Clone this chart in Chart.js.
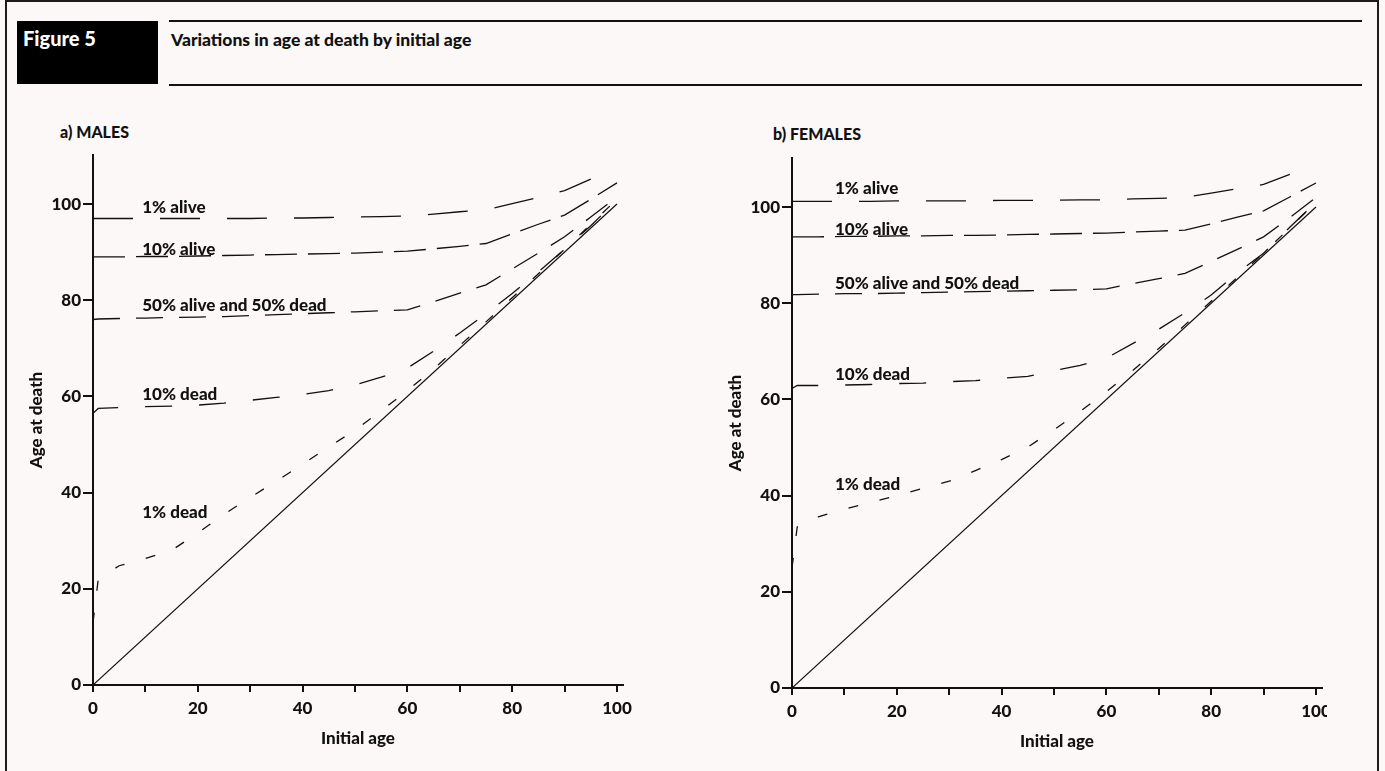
<!DOCTYPE html>
<html>
<head>
<meta charset="utf-8">
<script src="https://cdn.jsdelivr.net/npm/chart.js@4.4.1/dist/chart.umd.min.js"></script>
<style>
  html, body { margin:0; padding:0; }
  body { width:1385px; height:771px; overflow:hidden; background:#fdf8f8; position:relative; font-family: Lato, "Open Sans", sans-serif; }
  .frame { position:absolute; left:5px; top:0px; width:1374px; height:800px; border:2px solid #1c1c1c; box-sizing:border-box; }
  .figbox { position:absolute; left:17px; top:21px; width:141px; height:63px; background:#000; }
  .figlabel { position:absolute; left:23px; top:26px; color:#fff; font-weight:900; font-size:20px; line-height:24px; }
  .hline { position:absolute; left:169px; width:1193px; height:1.5px; background:#111; }
  .title { position:absolute; left:171px; top:29px; font-weight:900; font-size:17.5px; line-height:21px; color:#111; }
  .panel { position:absolute; font-weight:900; font-size:16px; line-height:18px; color:#111; }
  .wrap { position:absolute; }
</style>
</head>
<body>
<div class="frame"></div>
<div class="figbox"></div>
<div class="figlabel">Figure 5</div>
<div class="hline" style="top:20px"></div>
<div class="hline" style="top:84px"></div>
<div class="title">Variations in age at death by initial age</div>
<div class="panel" style="left:60px; top:123px;">a) MALES</div>
<div class="panel" style="left:773px; top:125px;">b) FEMALES</div>
<div class="wrap" style="left:0px; top:140px; width:650px; height:620px;"><canvas id="males" width="650" height="620"></canvas></div>
<div class="wrap" style="left:700px; top:143px; width:627px; height:620px;"><canvas id="females" width="627" height="620"></canvas></div>
<script>
// ---- Data ----
const ages = [0,1,5,10,15,20,25,30,35,40,45,50,55,60,65,70,75,80,85,90,95,100];
const diagonalAges = [0,100];
const diagonalValues = [0,100];

const seriesNames = ["1% alive","10% alive","50% alive and 50% dead","10% dead","1% dead"];

// Males
const maleAlive1  = [97,97,97,97,97,97,97,97,97.1,97.1,97.2,97.3,97.4,97.5,97.9,98.4,98.8,100.1,101.4,102.8,105.2,null];
const maleAlive10 = [89,89,89,89.1,89.1,89.2,89.3,89.4,89.5,89.6,89.7,89.8,90,90.2,90.7,91.2,91.8,93.8,95.8,97.7,101,104.4];
const maleMedian  = [76,76.1,76.2,76.3,76.4,76.5,76.6,76.8,77,77.2,77.4,77.6,77.8,78,79.7,81.5,83.2,86.5,89.8,93.2,97.3,101.5];
const maleDead10  = [56.5,57.5,57.7,57.9,58,58.2,58.6,59.2,59.8,60.4,61.2,62.4,64,65.9,69.4,73.2,77.2,81.4,85.9,90.6,95.5,100.8];
const maleDead1   = [13,22,24.8,26.3,28,31.6,35.5,39,42.4,45.9,49.5,53,57,61.2,65.7,70.6,75.5,80.5,85.5,90.6,95.8,101];

// Females
const femaleAlive1  = [101.2,101.2,101.2,101.2,101.2,101.3,101.3,101.3,101.3,101.4,101.4,101.4,101.5,101.5,101.7,101.8,102,102.9,103.8,104.7,106.8,null];
const femaleAlive10 = [93.8,93.8,93.8,93.9,93.9,94,94,94.1,94.1,94.2,94.3,94.4,94.5,94.6,94.8,95,95.2,96.5,97.9,99.2,102.1,105];
const femaleMedian  = [81.8,81.8,81.9,82,82,82.1,82.2,82.3,82.4,82.5,82.6,82.7,82.8,83,84.1,85.1,86.2,88.7,91.2,93.8,97.8,102];
const femaleDead10  = [62.3,62.9,62.9,63,63.1,63.3,63.4,63.7,63.9,64.4,64.8,66,67.1,68.6,71.6,74.6,78,81.7,86.3,90.4,95.8,101];
const femaleDead1   = [25,33.5,35.6,37.2,38.6,40,41.5,43,45.2,47.5,50.1,53.7,57.5,61.6,66,70.6,75.5,80.4,85.4,90.4,95.7,101];

// Tick values
const xTickValues = [0,10,20,30,40,50,60,70,80,90,100];
const xLabelValues = [0,20,40,60,80,100];
const yTickValues = [0,20,40,60,80,100];

// Label anchors (data coordinates: initial age, age at death)
const maleLabelX = 9.4;
const maleLabelY = [99.2, 90.6, 79, 60.3, 35.8];
const femaleLabelX = 8.2;
const femaleLabelY = [103.9, 95.3, 84, 65.1, 42.3];

// ---- Styling ----
const dashes = [[40,27],[32,11],[27,16],[27,27],[10,22]];
const FONT = "Lato, 'Open Sans', sans-serif";
const FS = 17;

function toPoints(xs, ys) {
  return xs.map((x, i) => ({x: x, y: ys[i]})).filter(p => p.y !== null);
}

function makeChart(id, series, labelX, labelY, yAxisWidth, rightPad, yTitlePad) {
  const datasets = [{
    data: toPoints(diagonalAges, diagonalValues),
    borderColor: '#111', borderWidth: 1.2, pointRadius: 0, fill: false
  }];
  series.forEach((s, i) => {
    datasets.push({
      data: toPoints(ages, s),
      borderColor: '#111', borderWidth: 1.3, borderDash: dashes[i],
      pointRadius: 0, fill: false, tension: 0
    });
  });

  const labelPlugin = {
    id: 'curveLabels',
    afterDatasetsDraw(chart) {
      const {ctx, scales} = chart;
      ctx.save();
      ctx.font = "900 " + FS + "px " + FONT;
      ctx.fillStyle = '#111';
      ctx.textBaseline = 'middle';
      ctx.textAlign = 'left';
      seriesNames.forEach((name, i) => {
        ctx.fillText(name, scales.x.getPixelForValue(labelX), scales.y.getPixelForValue(labelY[i]));
      });
      ctx.restore();
    }
  };

  const tickFont = { family: FONT, size: FS, weight: '900' };

  return new Chart(document.getElementById(id), {
    type: 'line',
    data: { datasets },
    plugins: [labelPlugin],
    options: {
      responsive: false,
      animation: false,
      layout: { padding: { top: 15, right: rightPad, bottom: 0, left: 0 } },
      plugins: { legend: { display: false }, tooltip: { enabled: false } },
      scales: {
        x: {
          type: 'linear', min: 0, max: 101.15,
          afterBuildTicks: (axis) => { axis.ticks = xTickValues.map(v => ({value: v})); },
          afterFit: (axis) => { axis.height = 75; axis.paddingRight = 0; axis.paddingLeft = 0; },
          ticks: {
            autoSkip: false, maxRotation: 0, padding: 6, color: '#111',
            font: tickFont,
            callback: (v) => xLabelValues.includes(v) ? String(v) : ''
          },
          grid: { drawOnChartArea: false, drawTicks: true, tickLength: 7, color: '#111', lineWidth: 2 },
          border: { display: true, color: '#111', width: 2 },
          title: { display: true, text: 'Initial age', color: '#111', padding: { top: 0, bottom: 11 },
                   font: tickFont }
        },
        y: {
          type: 'linear', min: 0, max: 110.2,
          afterBuildTicks: (axis) => { axis.ticks = yTickValues.map(v => ({value: v})); },
          afterFit: (axis) => { axis.width = yAxisWidth; axis.paddingTop = 0; axis.paddingBottom = 0; },
          ticks: {
            autoSkip: false, padding: 2, color: '#111',
            font: tickFont,
            callback: (v) => String(v)
          },
          grid: { drawOnChartArea: false, drawTicks: true, tickLength: 10, color: '#111', lineWidth: 2 },
          border: { display: true, color: '#111', width: 2 },
          title: { display: true, text: 'Age at death', color: '#111', padding: { top: yTitlePad, bottom: 0 },
                   font: tickFont }
        }
      }
    }
  });
}

function draw() {
  makeChart('males', [maleAlive1, maleAlive10, maleMedian, maleDead10, maleDead1], maleLabelX, maleLabelY, 93, 27, 26);
  makeChart('females', [femaleAlive1, femaleAlive10, femaleMedian, femaleDead10, femaleDead1], femaleLabelX, femaleLabelY, 92, 5, 25);
}

if (document.fonts && document.fonts.load) {
  Promise.all([document.fonts.load("900 17px Lato"), document.fonts.load("700 17px Lato")]).then(draw, draw);
} else { draw(); }
</script>
</body>
</html>
